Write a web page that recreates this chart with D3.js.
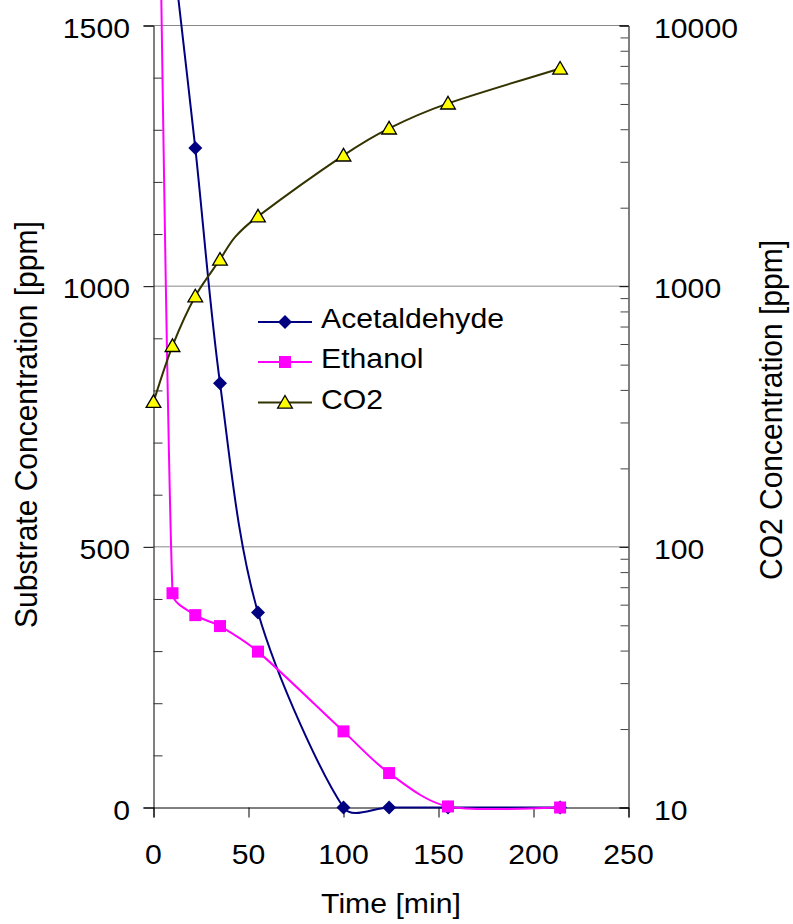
<!DOCTYPE html>
<html><head><meta charset="utf-8">
<script src="https://cdn.jsdelivr.net/npm/d3@7"></script>
<style>
body{margin:0;background:#fff}
svg{display:block}
text{font-family:"Liberation Sans",Arial,sans-serif;fill:#000}
</style>
</head><body>
<svg id="c" width="793" height="924"></svg>
<script>
// ---- data ----
const times = [0, 10, 22, 35, 55, 100, 124, 155, 214];
const acetaldehyde = [2000, 1650, 1265, 814, 374, 0, 0, 0, 0];
const ethanol = [2600, 411, 369, 348, 299, 146, 66, 2, 0];
const co2Times = [0, 10, 22, 35, 55, 100, 124, 155, 214];
const co2 = [360, 590, 915, 1265, 1853, 3175, 4030, 5025, 6840];
const co2LineTimes = [0, 10, 22, 35, 43, 55, 100, 124, 155, 214];
const co2Line = [360, 590, 915, 1265, 1545, 1853, 3175, 4030, 5025, 6840];
const xTicks = [0, 50, 100, 150, 200, 250];
const yTicks = [0, 500, 1000, 1500];
const yMinorTicks = [100,200,300,400,600,700,800,900,1100,1200,1300,1400];
const rTicks = [10, 100, 1000, 10000];
const seriesNames = ["Acetaldehyde", "Ethanol", "CO2"];
const xTitle = "Time [min]";
const yTitle = "Substrate Concentration [ppm]";
const rTitle = "CO2 Concentration [ppm]";

// ---- layout ----
const L = 153.5, R = 628.5, T = 25.5, B = 807.5;
const FS = 28.5, SX = 1.06;
const TFS = 30, TSX = 1.04;
const svg = d3.select("#c");
const x = d3.scaleLinear([0, 250], [L, R]);
const y = d3.scaleLinear([0, 1500], [B, T]);
const yr = d3.scaleLog([10, 10000], [B, T]);

const colors = {a: "#000080", e: "#FF00FF", c: "#333300"};

function txt(g, str, px, py, anchor, size, sx, rot) {
  return g.append("text")
    .attr("transform", `translate(${px},${py}) scale(${sx},1)` + (rot ? " rotate(-90)" : ""))
    .attr("text-anchor", anchor)
    .attr("font-size", size)
    .text(str);
}

// Excel-like smoothed line: Catmull-Rom Bezier with control arms capped by segment length
function smoothPath(pts) {
  const p = d3.path();
  p.moveTo(pts[0][0], pts[0][1]);
  const n = pts.length;
  const arm = (a, b, seg) => {
    let dx = (b[0] - a[0]) / 6, dy = (b[1] - a[1]) / 6;
    const len = Math.hypot(dx, dy), cap = seg / 3;
    if (len > cap && len > 0) { dx *= cap / len; dy *= cap / len; }
    return [dx, dy];
  };
  for (let i = 0; i < n - 1; i++) {
    const P0 = pts[Math.max(0, i - 1)], P1 = pts[i], P2 = pts[i + 1], P3 = pts[Math.min(n - 1, i + 2)];
    const seg = Math.hypot(P2[0] - P1[0], P2[1] - P1[1]);
    const a = arm(P0, P2, seg), b = arm(P1, P3, seg);
    p.bezierCurveTo(P1[0] + a[0], P1[1] + a[1], P2[0] - b[0], P2[1] - b[1], P2[0], P2[1]);
  }
  return p.toString();
}

// gridlines
svg.append("g").selectAll("line").data(yTicks.filter(d => d > 0)).join("line")
  .attr("x1", L).attr("x2", R).attr("y1", d => y(d)).attr("y2", d => y(d))
  .attr("stroke", "#888").attr("stroke-width", 1);

// left axis
const gl = svg.append("g").attr("transform", `translate(${L},0)`)
  .call(d3.axisLeft(y).tickValues(yTicks).tickSize(10).tickFormat(""));
gl.select(".domain").attr("stroke", "#000");
gl.selectAll(".tick line").attr("stroke", "#000");
svg.append("g").attr("transform", `translate(${L},0)`)
  .call(d3.axisLeft(y).tickValues(yMinorTicks).tickSize(-9).tickFormat(""))
  .call(g => g.select(".domain").remove())
  .selectAll(".tick line").attr("stroke", "#333");

// right axis (log)
const rMinor = [];
for (let dec = 10; dec < 10000; dec *= 10) for (let k = 2; k <= 9; k++) rMinor.push(dec * k);
const gr = svg.append("g").attr("transform", `translate(${R},0)`)
  .call(d3.axisRight(yr).tickValues(rTicks).tickSize(-9).tickFormat(""));
gr.select(".domain").attr("stroke", "#000");
svg.append("g").attr("transform", `translate(${R},0)`)
  .call(d3.axisRight(yr).tickValues(rMinor).tickSize(-8).tickFormat(""))
  .call(g => g.select(".domain").remove())
  .selectAll(".tick line").attr("stroke", "#444");

// bottom axis
const gb = svg.append("g").attr("transform", `translate(0,${B})`)
  .call(d3.axisBottom(x).tickValues(xTicks).tickSize(10).tickFormat(""));
gb.select(".domain").attr("stroke", "#000");

// tick labels
const labels = svg.append("g");
yTicks.forEach(d => txt(labels, d3.format("d")(d), 130, y(d) + 12, "end", FS, SX));
rTicks.forEach(d => txt(labels, String(d), 654, yr(d) + 12, "start", FS, SX));
xTicks.forEach(d => txt(labels, String(d), x(d), 864, "middle", FS, SX));

// titles
txt(labels, xTitle, 391, 913, "middle", FS, SX);
txt(labels, yTitle, 37, 628, "start", TFS, TSX, true);
txt(labels, rTitle, 782, 410, "middle", TFS, TSX, true);

// ---- series ----
const diamond = s => `M0,${-s}L${s},0L0,${s}L${-s},0Z`;
const square = s => `M${-s},${-s}H${s}V${s}H${-s}Z`;
const tri = s => `M0,${-s}L${s*1.05},${s*0.8}L${-s*1.05},${s*0.8}Z`;

// Acetaldehyde
svg.append("path").attr("d", smoothPath(acetaldehyde.map((d, i) => [x(times[i]), y(d)])))
  .attr("fill", "none").attr("stroke", colors.a).attr("stroke-width", 2);
svg.append("g").selectAll("path").data(acetaldehyde).join("path")
  .attr("transform", (d, i) => `translate(${x(times[i])},${y(d)})`)
  .attr("d", diamond(7)).attr("fill", colors.a);

// Ethanol
svg.append("path").attr("d", smoothPath(ethanol.map((d, i) => [x(times[i]), y(d)])))
  .attr("fill", "none").attr("stroke", colors.e).attr("stroke-width", 2);
svg.append("g").selectAll("path").data(ethanol).join("path")
  .attr("transform", (d, i) => `translate(${x(times[i])},${y(d)})`)
  .attr("d", square(6)).attr("fill", colors.e);

// CO2
svg.append("path").attr("d", smoothPath(co2Line.map((d, i) => [x(co2LineTimes[i]), yr(d)])))
  .attr("fill", "none").attr("stroke", colors.c).attr("stroke-width", 2);
svg.append("g").selectAll("path").data(co2).join("path")
  .attr("transform", (d, i) => `translate(${x(co2Times[i])},${yr(d)})`)
  .attr("d", tri(7)).attr("fill", "#FFFF00").attr("stroke", "#000").attr("stroke-width", 1.3);

// ---- legend ----
const legY = [322, 362, 402.5];
const legMarks = [
  {c: colors.a, d: diamond(7), f: colors.a, s: "none"},
  {c: colors.e, d: square(6), f: colors.e, s: "none"},
  {c: colors.c, d: tri(7), f: "#FFFF00", s: "#000"}
];
const leg = svg.append("g");
seriesNames.forEach((n, i) => {
  leg.append("line").attr("x1", 258).attr("x2", 312).attr("y1", legY[i]).attr("y2", legY[i])
    .attr("stroke", legMarks[i].c).attr("stroke-width", 2);
  leg.append("path").attr("transform", `translate(285,${legY[i]})`).attr("d", legMarks[i].d)
    .attr("fill", legMarks[i].f).attr("stroke", legMarks[i].s).attr("stroke-width", 1.3);
  txt(leg, n, 321, legY[i] + 6, "start", FS, SX);
});
</script>
</body></html>
